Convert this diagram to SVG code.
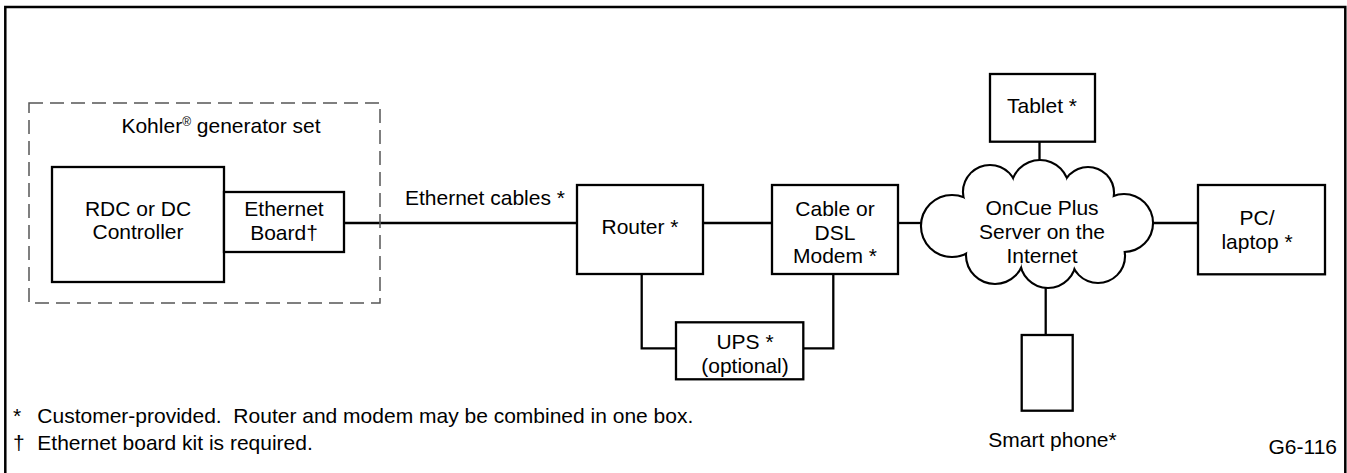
<svg xmlns="http://www.w3.org/2000/svg" width="1347" height="473" viewBox="0 0 1347 473">
<style>
  text { font-family: "Liberation Sans", Arial, sans-serif; font-size: 21px; fill: #000; }
  .c { text-anchor: middle; }
  .box { fill: #fff; stroke: #000; stroke-width: 2.3; }
  .wire { fill: none; stroke: #000; stroke-width: 2.3; }
  .lobe1 { fill: #fff; stroke: #000; stroke-width: 4.2; }
  .lobe2 { fill: #fff; stroke: none; }
</style>
<rect x="0" y="0" width="1347" height="473" fill="#fff"/>
<rect id="frame" x="5.3" y="7" width="1340" height="480" fill="none" stroke="#000" stroke-width="2.5"/>

<g id="connectors">
  <line class="wire" x1="344" y1="223" x2="577" y2="223"/>
  <line class="wire" x1="703" y1="223" x2="772" y2="223"/>
  <line class="wire" x1="898" y1="223" x2="923" y2="223"/>
  <line class="wire" x1="1151" y1="223" x2="1198" y2="223"/>
  <line class="wire" x1="1039.5" y1="141.7" x2="1039.5" y2="162"/>
  <line class="wire" x1="1045.7" y1="286" x2="1045.7" y2="335"/>
  <polyline class="wire" points="641.7,274 641.7,348.3 676,348.3"/>
  <polyline class="wire" points="833.3,274 833.3,348.3 803.3,348.3"/>
</g>

<g id="generator-set">
  <rect x="29" y="103" width="351" height="200" fill="none" stroke="#555" stroke-width="1.5" stroke-dasharray="14 7"/>
  <text class="c" x="221" y="133">Kohler<tspan font-size="12" dy="-7">®</tspan><tspan dy="7"> generator set</tspan></text>
</g>

<g id="controller">
  <rect class="box" x="52" y="167" width="172" height="115"/>
  <text class="c" x="138" y="216">RDC or DC</text>
  <text class="c" x="138" y="239">Controller</text>
</g>

<g id="ethernet-board">
  <rect class="box" x="224" y="192" width="120" height="60"/>
  <text class="c" x="284" y="216">Ethernet</text>
  <text class="c" x="284" y="240">Board†</text>
</g>

<g id="ethernet-cables-label">
  <text x="405" y="205">Ethernet cables *</text>
</g>

<g id="router">
  <rect class="box" x="577" y="185" width="126" height="89"/>
  <text class="c" x="640" y="234">Router *</text>
</g>

<g id="modem">
  <rect class="box" x="772" y="185" width="126" height="89"/>
  <text class="c" x="835" y="216">Cable or</text>
  <text class="c" x="835" y="239.5">DSL</text>
  <text class="c" x="835" y="263">Modem *</text>
</g>

<g id="ups">
  <rect class="box" x="676" y="322.3" width="127.3" height="57"/>
  <text class="c" x="745" y="349">UPS *</text>
  <text class="c" x="745" y="373">(optional)</text>
</g>

<g id="cloud">
  <g class="lobe1">
    <circle cx="952" cy="226" r="30"/>
    <circle cx="990" cy="192" r="26"/>
    <circle cx="1040" cy="189" r="28"/>
    <circle cx="1088" cy="193" r="25"/>
    <circle cx="1124" cy="223" r="28"/>
    <circle cx="1098" cy="256" r="26"/>
    <circle cx="1048" cy="260" r="27"/>
    <circle cx="995" cy="255" r="28"/>
  </g>
  <g class="lobe2">
    <ellipse cx="1037" cy="224" rx="80" ry="38"/>
    <circle cx="952" cy="226" r="30"/>
    <circle cx="990" cy="192" r="26"/>
    <circle cx="1040" cy="189" r="28"/>
    <circle cx="1088" cy="193" r="25"/>
    <circle cx="1124" cy="223" r="28"/>
    <circle cx="1098" cy="256" r="26"/>
    <circle cx="1048" cy="260" r="27"/>
    <circle cx="995" cy="255" r="28"/>
  </g>
  <text class="c" x="1042" y="215">OnCue Plus</text>
  <text class="c" x="1042" y="238.5">Server on the</text>
  <text class="c" x="1042" y="262.5">Internet</text>
</g>

<g id="tablet">
  <rect class="box" x="990" y="74" width="105" height="67.7"/>
  <text class="c" x="1042" y="113">Tablet *</text>
</g>

<g id="pc">
  <rect class="box" x="1198" y="185" width="127" height="89.3"/>
  <text class="c" x="1257" y="225">PC/</text>
  <text class="c" x="1257" y="249">laptop *</text>
</g>

<g id="smart-phone">
  <rect class="box" x="1021.7" y="335" width="51" height="75.7"/>
  <text class="c" x="1052.5" y="447">Smart phone*</text>
</g>

<g id="notes">
  <text x="13" y="423">*</text>
  <text x="37.3" y="423">Customer-provided.&#160; Router and modem may be combined in one box.</text>
  <text x="13" y="450">†</text>
  <text x="37.3" y="450">Ethernet board kit is required.</text>
  <text x="1337" y="454" font-size="15" text-anchor="end">G6-116</text>
</g>
</svg>
